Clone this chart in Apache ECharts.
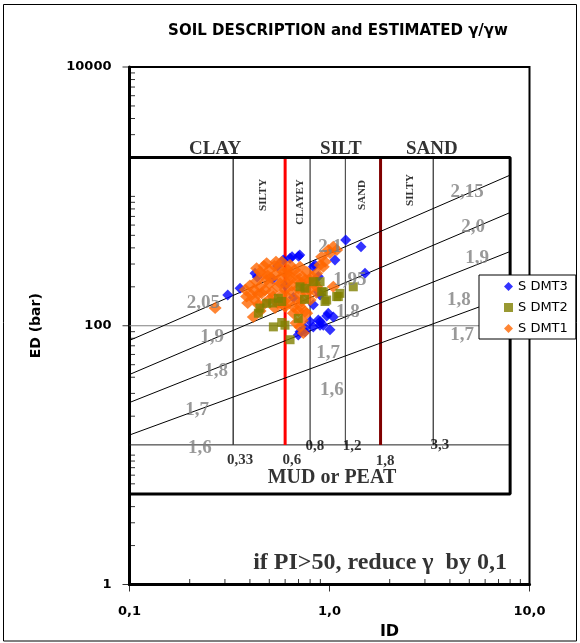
<!DOCTYPE html>
<html>
<head>
<meta charset="utf-8">
<script src="https://cdn.jsdelivr.net/npm/echarts@6.0.0/dist/echarts.min.js"></script>
<style>
  html, body { margin: 0; padding: 0; background: #fff; }
  #chart { width: 580px; height: 643px; }
</style>
</head>
<body>
<div id="chart"></div>
<script>
// measured points, [ID, ED (bar)]
const dmt3 = [
  [0.31, 173], [0.357, 195], [0.424, 255], [0.435, 238], [0.587, 322], [0.635, 332], [0.65, 342],
  [0.71, 352], [0.7, 345], [0.83, 286], [0.846, 295], [1.065, 322], [1.205, 460], [1.437, 408],
  [1.505, 255], [0.879, 240], [0.897, 173], [0.879, 183], [0.83, 145], [0.986, 125], [1.045, 117],
  [0.968, 119], [0.879, 111], [0.897, 108], [0.799, 108], [0.931, 101], [0.83, 98], [0.754, 96],
  [0.754, 90], [0.712, 90], [0.698, 85], [1.006, 93], [0.897, 101], [0.52, 230], [0.6, 205],
  [0.66, 165], [0.55, 290]
];
const dmt2 = [
  [0.441, 125], [0.449, 137], [0.485, 149], [0.524, 98], [0.577, 106], [0.599, 101], [0.555, 163],
  [0.577, 154], [0.635, 78], [0.698, 114], [0.712, 200], [0.754, 195], [0.83, 219], [0.897, 219],
  [0.914, 183], [0.931, 183], [0.95, 154], [0.968, 158], [1.086, 168], [1.107, 168], [1.128, 178],
  [1.315, 200], [0.75, 160], [0.52, 150]
];
const dmt1 = [
  [0.268, 137], [0.385, 168], [0.408, 173], [0.416, 117], [0.432, 278], [0.441, 145], [0.449, 200],
  [0.458, 178], [0.476, 149], [0.485, 304], [0.485, 226], [0.514, 183], [0.524, 168], [0.534, 137],
  [0.566, 213], [0.577, 313], [0.577, 173], [0.577, 149], [0.611, 255], [0.611, 149], [0.647, 183],
  [0.659, 125], [0.698, 195], [0.712, 286], [0.712, 141], [0.712, 98], [0.726, 154], [0.74, 88],
  [0.754, 129], [0.769, 178], [0.769, 125], [0.863, 255], [0.863, 200], [0.897, 295], [0.914, 342],
  [0.931, 286], [0.95, 313], [0.986, 385], [1.006, 365], [1.045, 408], [1.045, 200], [1.086, 385],
  [0.5, 270], [0.635, 226], [0.534, 247], [0.68, 247], [0.8, 226], [0.4, 205], [0.46, 247],
  [0.6, 189], [0.68, 158], [0.8, 158], [0.476, 189], [0.754, 226], [0.635, 295], [0.54, 313],
  [0.424, 158], [0.38, 190], [0.56, 280], [0.62, 270], [0.72, 215], [0.5, 210],
  [0.43, 220], [0.45, 260], [0.47, 290], [0.49, 245], [0.51, 235], [0.53, 290], [0.55, 200],
  [0.57, 235], [0.59, 260], [0.61, 215], [0.63, 245], [0.65, 205], [0.67, 270], [0.69, 225],
  [0.71, 175], [0.73, 240], [0.75, 200], [0.77, 260], [0.79, 190], [0.82, 240], [0.84, 215],
  [0.86, 180], [0.44, 175], [0.5, 160], [0.55, 150], [0.62, 165], [0.66, 140], [0.7, 130],
  [0.73, 110], [0.68, 105], [0.6, 140], [0.45, 130], [0.42, 190], [0.39, 150]
];

// chart frame (soil classes and unit weight lines)
const boundaryIds = [0.33, 0.6, 0.8, 1.2, 1.8, 3.3];
const boxRightId = 8;
const boxTopEd = 2000;
const boxBottomEd = 5;
const mudEd = 12;
const gammaLines = [
  [[0.1, 77], [8, 1460]],
  [[0.1, 42], [8, 750]],
  [[0.1, 25.5], [8, 375]],
  [[0.1, 14.3], [8, 171]]
];

// texts, [text, ID, ED]
const soilLabels = [['CLAY', 0.268, 2323], ['SILT', 1.14, 2323], ['SAND', 3.25, 2323]];
const subLabels = [['SILTY', 0.465, 1026], ['CLAYEY', 0.712, 905], ['SAND', 1.454, 1026], ['SILTY', 2.526, 1121]];
const boundaryLabels = [
  ['0,33', 0.357, 9.2], ['0,6', 0.649, 9.2], ['0,8', 0.846, 11.8],
  ['1,2', 1.296, 11.8], ['1,8', 1.895, 9.0], ['3,3', 3.567, 12]
];
const gammaLabels = [
  ['2,15', 4.87, 1081], ['2,0', 5.22, 580], ['1,9', 5.47, 334], ['1,8', 4.44, 158], ['1,7', 4.6, 85],
  ['2,1', 1.006, 406], ['1,95', 1.266, 226], ['1,8', 1.237, 128], ['1,7', 0.983, 62], ['1,6', 1.029, 32],
  ['2,05', 0.234, 150], ['1,9', 0.259, 82], ['1,8', 0.271, 45], ['1,7', 0.218, 22.3], ['1,6', 0.225, 11.4]
];
const mudLabel = [['MUD or PEAT', 1.029, 6.67]];
const noteLabel = [['if PI>50, reduce γ  by 0,1', 1.789, 1.47]];

// axis ticks
const xMajor = [0.1, 1, 10];
const xTickLabels = ['0,1', '1,0', '10,0'];
const yMajor = [1, 100, 10000];
const yTickLabels = ['1', '100', '10000'];
const seriesNames = ['S DMT3', 'S DMT2', 'S DMT1'];

function minorTicks(major, lo, hi) {
  const out = [];
  for (let d = lo; d < hi; d *= 10) {
    for (let k = 1; k < 10; k++) {
      const v = +(d * k).toPrecision(6);
      if (major.indexOf(v) < 0) out.push(v);
    }
  }
  return out;
}

function nearestLabel(values, labels, v) {
  let best = 0;
  values.forEach((m, i) => {
    if (Math.abs(Math.log10(m) - Math.log10(v)) < Math.abs(Math.log10(values[best]) - Math.log10(v))) best = i;
  });
  return labels[best];
}

const serif = '"Liberation Serif", "DejaVu Serif", serif';
const sans = '"DejaVu Sans", sans-serif';

function seg(points, color, width, z) {
  return {
    type: 'line', data: points, symbol: 'none', showSymbol: false, silent: true, z: z,
    lineStyle: { color: color, width: width }, emphasis: { disabled: true }
  };
}

function textSeries(items, style) {
  return {
    type: 'scatter', silent: true, z: 10, symbolSize: 1,
    itemStyle: { color: 'rgba(0,0,0,0)' },
    data: items.map((t) => ({ name: t[0], value: [t[1], t[2]] })),
    label: Object.assign({
      show: true, position: 'inside', formatter: '{b}',
      fontFamily: serif, fontWeight: 'bold', color: '#000'
    }, style),
    emphasis: { disabled: true }
  };
}

// axis ticks drawn as small marks sitting on the axis values
function tickSeries(points, size, offset) {
  return {
    type: 'scatter', silent: true, clip: false, z: 8, symbol: 'rect',
    symbolSize: size, symbolOffset: offset, itemStyle: { color: '#000' },
    data: points, emphasis: { disabled: true }
  };
}

const boundaryColors = ['#404040', '#ff0000', '#606060', '#303030', '#800000', '#000000'];
const boundaryWidths = [1.5, 3, 1.5, 1, 3, 1];

const series = [];
series.push(seg([[0.1, 100], [10, 100]], '#808080', 1, 1));
series.push(seg([[0.1, mudEd], [boxRightId, mudEd]], '#202020', 1, 2));
boundaryIds.forEach((id, i) => {
  series.push(seg([[id, mudEd], [id, boxTopEd]], boundaryColors[i], boundaryWidths[i], 2));
});
series.push(seg([[0.1, boxTopEd], [boxRightId, boxTopEd], [boxRightId, boxBottomEd], [0.1, boxBottomEd]], '#000', 3, 3));
gammaLines.forEach((l) => series.push(seg(l, '#000', 1, 3)));

series.push({
  name: seriesNames[0], type: 'scatter', data: dmt3, symbol: 'diamond', symbolSize: [11, 11],
  itemStyle: { color: '#0000ff' }, z: 4
});
series.push({
  name: seriesNames[2], type: 'scatter', data: dmt1, symbol: 'diamond', symbolSize: [13, 12],
  itemStyle: { color: '#ff6600' }, z: 5
});
series.push({
  name: seriesNames[1], type: 'scatter', data: dmt2, symbol: 'rect', symbolSize: [9, 9],
  itemStyle: { color: '#808000' }, z: 6
});

series.push(tickSeries(minorTicks(yMajor, 1, 10000).map((v) => [0.1, v]), [4, 1], [3.5, 0]));
series.push(tickSeries(yMajor.map((v) => [0.1, v]), [6, 1], [-4, 0]));
series.push(tickSeries(minorTicks(xMajor, 0.1, 10).map((v) => [v, 1]), [1, 4], [0, -3.5]));
series.push(tickSeries(xMajor.map((v) => [v, 1]), [1, 6], [0, 4]));

series.push(textSeries(soilLabels, { fontSize: 19 }));
series.push(textSeries(subLabels, { fontSize: 11, rotate: 90 }));
series.push(textSeries(boundaryLabels, { fontSize: 15 }));
series.push(textSeries(gammaLabels, { fontSize: 19, color: '#808080' }));
series.push(textSeries(mudLabel, { fontSize: 20 }));
series.push(textSeries(noteLabel, { fontSize: 24 }));

const axisFont = { fontFamily: sans, fontWeight: 'bold', fontSize: 13, color: '#000' };

const chart = echarts.init(document.getElementById('chart'), null, { renderer: 'canvas' });
chart.setOption({
  animation: false,
  backgroundColor: '#fff',
  title: {
    text: 'SOIL DESCRIPTION and ESTIMATED γ/γw',
    left: 333, top: 19, textAlign: 'center',
    textStyle: { fontFamily: sans, fontWeight: 'bold', fontSize: 15, color: '#000' }
  },
  legend: {
    data: seriesNames, orient: 'vertical', left: 479, top: 275,
    padding: [5, 8, 4, 25], itemGap: 8, itemWidth: 9, itemHeight: 9,
    backgroundColor: '#fff', borderColor: '#000', borderWidth: 1, borderRadius: 0,
    selectedMode: false,
    textStyle: { fontFamily: sans, fontSize: 13, color: '#000' }
  },
  grid: {
    left: 129.5, right: 50.5, top: 67, bottom: 58.5,
    show: true, borderColor: '#000', borderWidth: 2, backgroundColor: 'transparent',
    containLabel: false, outerBoundsMode: 'none'
  },
  xAxis: {
    type: 'log', logBase: 10, min: 0.1, max: 10, position: 'bottom',
    name: 'ID', nameLocation: 'middle', nameGap: 34,
    nameTextStyle: { fontFamily: sans, fontWeight: 'bold', fontSize: 16, color: '#000', padding: [0, 0, 0, 120] },
    axisLine: { show: true, lineStyle: { color: '#000', width: 3 } },
    axisTick: { show: false },
    axisLabel: Object.assign({
      customValues: xMajor, margin: 21,
      formatter: (v) => nearestLabel(xMajor, xTickLabels, v)
    }, axisFont),
    splitLine: { show: false }
  },
  yAxis: {
    type: 'log', logBase: 10, min: 1, max: 10000, position: 'left',
    name: 'ED (bar)', nameLocation: 'middle', nameGap: 86,
    nameTextStyle: { fontFamily: sans, fontWeight: 'bold', fontSize: 14, color: '#000' },
    axisLine: { show: true, lineStyle: { color: '#000', width: 3 } },
    axisTick: { show: false },
    axisLabel: Object.assign({
      customValues: yMajor, margin: 18,
      formatter: (v) => nearestLabel(yMajor, yTickLabels, v)
    }, axisFont),
    splitLine: { show: false }
  },
  graphic: [
    {
      type: 'rect', silent: true, z: 100,
      shape: { x: 3.5, y: 4.5, width: 573, height: 636.5 },
      style: { fill: 'none', stroke: '#000', lineWidth: 1 }
    }
  ],
  series: series
});
</script>
</body>
</html>
